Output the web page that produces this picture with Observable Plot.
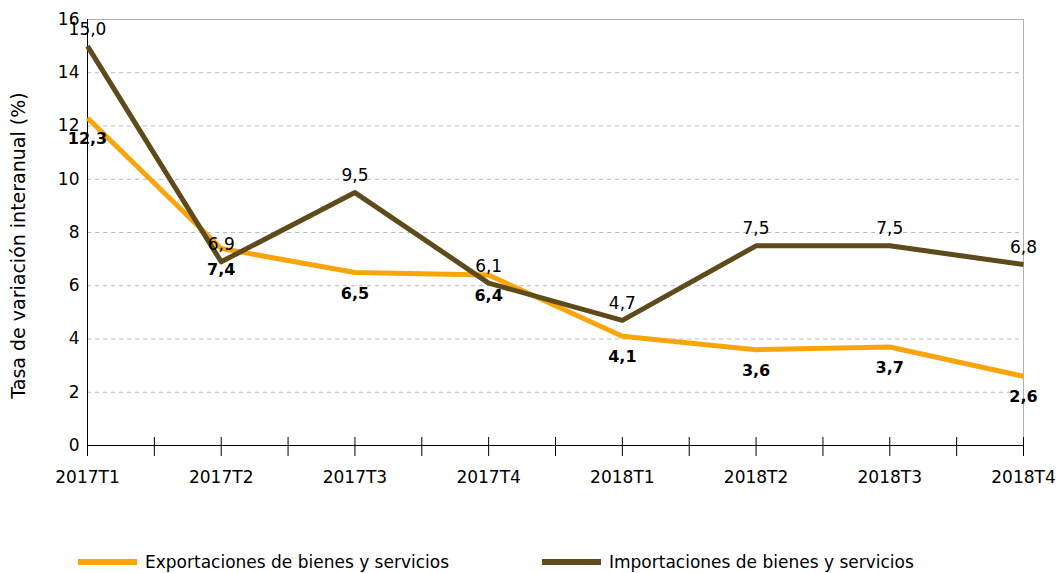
<!DOCTYPE html>
<html>
<head>
<meta charset="utf-8">
<script src="https://cdn.jsdelivr.net/npm/d3@7"></script>
<script src="https://cdn.jsdelivr.net/npm/@observablehq/plot@0.6"></script>
<style>
  html, body { margin: 0; padding: 0; background: white; }
  body { position: relative; width: 1063px; height: 573px; overflow: hidden; font-family: "DejaVu Sans", sans-serif; }
  #legend { position: absolute; left: 0; top: 551px; width: 1063px; height: 22px; font-size: 17px; color: #000; }
  .item { position: absolute; top: 0; display: flex; align-items: center; height: 22px; }
  .sw { width: 59px; height: 6px; margin-right: 8px; }
</style>
</head>
<body>
<div id="chart"></div>
<div id="legend"></div>
<script>
const quarters = ["2017T1", "2017T2", "2017T3", "2017T4", "2018T1", "2018T2", "2018T3", "2018T4"];
const exportaciones = [12.3, 7.4, 6.5, 6.4, 4.1, 3.6, 3.7, 2.6];
const importaciones = [15.0, 6.9, 9.5, 6.1, 4.7, 7.5, 7.5, 6.8];
const yTicks = [0, 2, 4, 6, 8, 10, 12, 14, 16];
const seriesNames = ["Exportaciones de bienes y servicios", "Importaciones de bienes y servicios"];
const seriesColors = ["#F8A50B", "#5E4A1A"];
const yLabel = "Tasa de variación interanual (%)";

const fmt = v => v.toFixed(1).replace(".", ",");
const expData = quarters.map((q, i) => ({i, q, v: exportaciones[i]}));
const impData = quarters.map((q, i) => ({i, q, v: importaciones[i]}));
const xTicks = quarters.flatMap((q, i) => i < quarters.length - 1 ? [i, i + 0.5] : [i]);
const yMax = yTicks[yTicks.length - 1];
const lastIdx = quarters.length - 1;

const chart = Plot.plot({
  width: 1063,
  height: 540,
  marginLeft: 87,
  marginRight: 40,
  marginTop: 19,
  marginBottom: 95,
  x: {domain: [0, lastIdx], label: null},
  y: {domain: [0, yMax], label: null},
  style: {fontFamily: "DejaVu Sans, sans-serif", fontSize: "17px", color: "#000", background: "white"},
  marks: [
    Plot.gridY(yTicks.filter(d => d > 0 && d < yMax), {stroke: "#b8b8b8", strokeOpacity: 1, strokeDasharray: "4,4"}),
    Plot.ruleY([yMax], {stroke: "#b0b0b0"}),
    Plot.ruleX([lastIdx], {stroke: "#b0b0b0"}),
    Plot.axisY({ticks: yTicks, tickSize: 0, tickPadding: 8, fontSize: 17, label: null}),
    Plot.text([yLabel], {frameAnchor: "left", textAnchor: "middle", rotate: -90, dx: -69, dy: 13, fontSize: 19, fill: "black"}),
    Plot.axisX({ticks: xTicks, tickSize: 11, tickPadding: 14, fontSize: 17, tickFormat: d => Number.isInteger(d) ? quarters[d] : "", label: null}),
    Plot.ruleX(xTicks.filter(d => d > 0), {y1: 0, y2: 0.3, stroke: "black"}),
    Plot.ruleX([0], {stroke: "black"}),
    Plot.ruleY([0], {stroke: "black"}),
    Plot.line(expData, {x: "i", y: "v", stroke: seriesColors[0], strokeWidth: 5, strokeLinecap: "butt"}),
    Plot.line(impData, {x: "i", y: "v", stroke: seriesColors[1], strokeWidth: 5, strokeLinecap: "butt"}),
    Plot.text(impData, {x: "i", y: "v", text: d => fmt(d.v), dy: -17, fontSize: 17, fill: "black"}),
    Plot.text(expData, {x: "i", y: "v", text: d => fmt(d.v), dy: 21, fontSize: 16, fontWeight: "bold", fill: "black"})
  ]
});
document.getElementById("chart").appendChild(chart);

const legend = document.getElementById("legend");
const lefts = [78, 542];
seriesNames.forEach((name, k) => {
  const item = document.createElement("div");
  item.className = "item";
  item.style.left = lefts[k] + "px";
  const sw = document.createElement("span");
  sw.className = "sw";
  sw.style.background = seriesColors[k];
  const t = document.createElement("span");
  t.textContent = name;
  item.appendChild(sw);
  item.appendChild(t);
  legend.appendChild(item);
});
</script>
</body>
</html>
